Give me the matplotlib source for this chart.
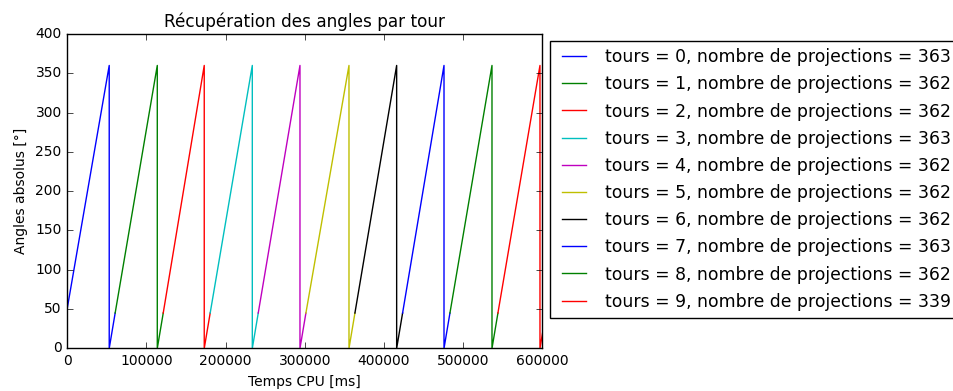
import matplotlib
matplotlib.use('Agg')
import matplotlib.pyplot as plt

plt.style.use('classic')
plt.rcParams['font.size'] = 10

# nombre de projections par tour
tours = [0, 1, 2, 3, 4, 5, 6, 7, 8, 9]
nb_proj = [363, 362, 362, 363, 362, 362, 362, 363, 362, 339]

# sommets de chaque dent de scie : debut, 360 deg, retour a 0, fin
t_debut = [0, 60500, 121200, 180500, 241200, 301400, 363300, 423500, 483300, 543900]
a_debut = [51, 45, 45, 45, 45, 45, 45, 45, 45, 45]
t_360 = [53000, 113700, 173000, 233700, 293900, 355800, 416000, 475800, 536400, 597000]
t_fin = [60500, 121200, 180500, 241200, 301400, 363300, 423500, 483300, 543900, 600500]
a_fin = [45, 45, 45, 45, 45, 45, 45, 45, 45, 21]

fig = plt.figure(figsize=(9.54, 3.91), dpi=100)
ax = fig.add_axes([0.0705, 0.109, 0.498, 0.804])

for i in range(len(tours)):
    x = [t_debut[i], t_360[i], t_360[i], t_fin[i]]
    y = [a_debut[i], 360, 0, a_fin[i]]
    ax.plot(x, y, label='tours = %d, nombre de projections = %d' % (tours[i], nb_proj[i]))

ax.set_xlim(0, 600000)
ax.set_ylim(0, 400)
ax.set_xticks([0, 100000, 200000, 300000, 400000, 500000, 600000])
ax.set_yticks(range(0, 401, 50))
ax.set_title(u'Récupération des angles par tour', fontsize=12.2)
ax.set_xlabel('Temps CPU [ms]')
ax.set_ylabel(u'Angles absolus [°]')
ax.legend(bbox_to_anchor=(1, 1), loc=2, fontsize=12.45, labelspacing=0.53,
          borderaxespad=0.42)

fig.savefig('out.png', dpi=100)
